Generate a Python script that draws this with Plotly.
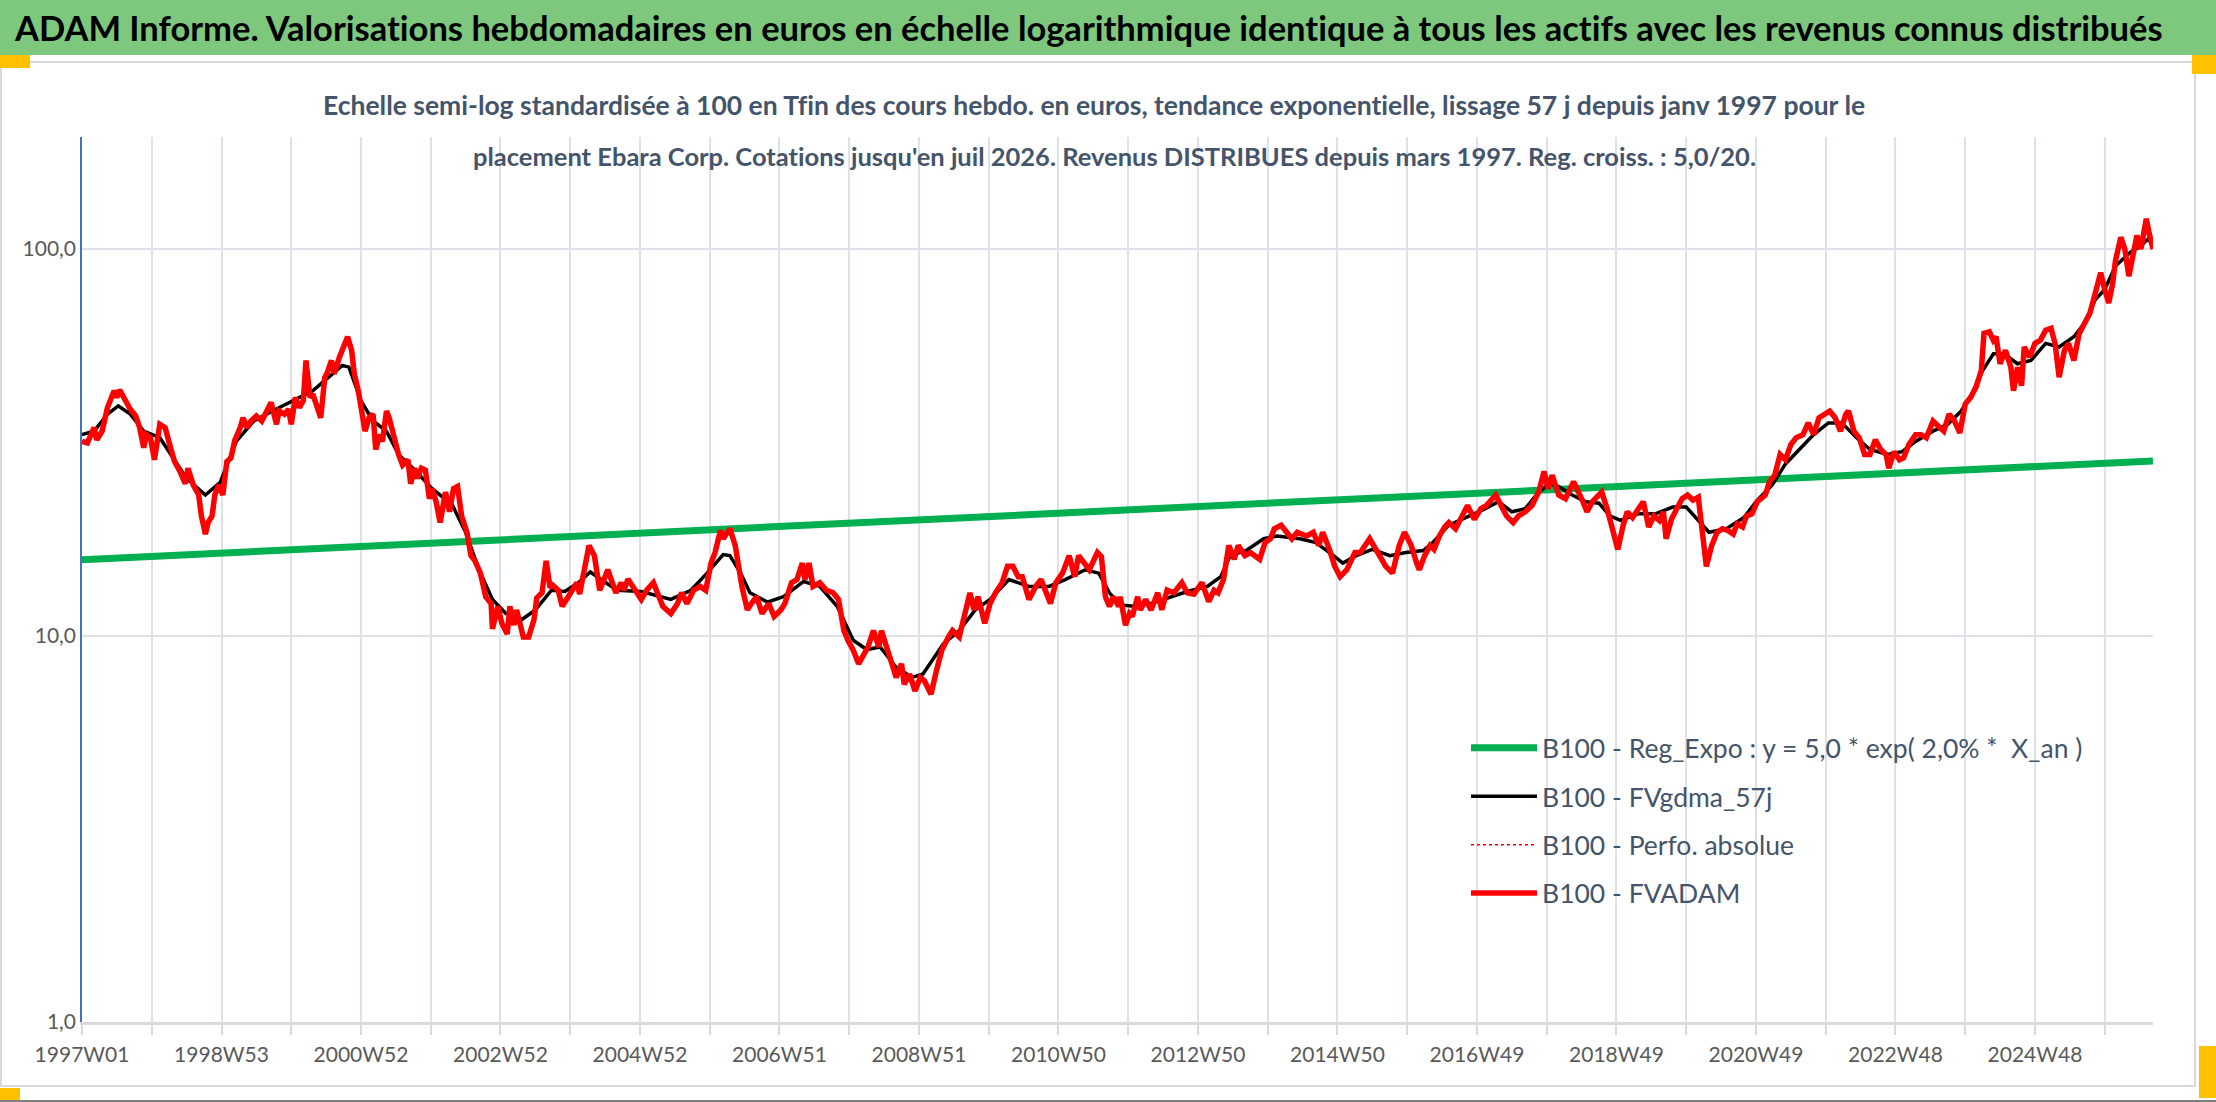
import plotly.graph_objects as go

# ---------------- data ----------------
week_labels = ["1997W01", "1998W53", "2000W52", "2002W52", "2004W52", "2006W51",
               "2008W51", "2010W50", "2012W50", "2014W50", "2016W49", "2018W49",
               "2020W49", "2022W48", "2024W48"]
last_week = 1544  # index of the last weekly quote (juil 2026)

# B100 - FVADAM (weekly valuation, base 100 at the end) : week index / value
fvadam_weeks = [0, 4, 9, 11, 15, 19, 24, 26, 28, 32, 36, 40, 43, 46, 48, 51, 54, 58, 62, 66, 69, 73, 77, 79, 83, 87, 89, 92, 94, 97, 99, 102, 105, 108, 111, 114, 118, 120, 123, 126, 130, 134, 137, 141, 145, 147, 151, 154, 156, 159, 162, 165, 167, 170, 172, 175, 178, 181, 183, 186, 188, 192, 196, 198, 201, 203, 206, 208, 211, 214, 217, 219, 222, 224, 227, 229, 233, 236, 239, 243, 245, 248, 250, 253, 256, 259, 261, 264, 267, 271, 274, 277, 280, 283, 287, 290, 293, 297, 301, 305, 306, 310, 313, 317, 319, 322, 324, 327, 329, 333, 337, 339, 343, 346, 349, 351, 355, 358, 361, 365, 369, 371, 374, 378,
                382, 386, 392, 398, 402, 404, 407, 412, 417, 421, 426, 433, 439, 444, 447, 451, 456, 461, 465, 469, 472, 476, 478, 483, 487, 492, 496, 499, 503, 507, 512, 516, 521, 524, 529, 533, 537, 539, 542, 545, 550, 555, 560, 564, 568, 571, 575, 579, 582, 586, 590, 594, 596, 600, 603, 607, 611, 613, 617, 621, 625, 628, 633, 637, 641, 646, 649, 654, 657, 662, 665, 668, 673, 677, 681, 686, 690, 694, 698, 701, 706, 711, 715, 722, 726, 731, 736, 740, 743, 747, 751, 757, 760, 763, 766,
                769, 773, 774, 778, 781, 783, 787, 789, 793, 797, 802, 805, 809, 814, 820, 824, 829, 835, 840, 844, 847, 851, 855, 859, 862, 867, 871, 878, 882, 886, 889, 894, 902, 906, 913, 918, 922, 925, 930, 934, 938, 943, 949, 953, 960, 965, 972, 977, 982, 986, 991, 995, 997, 1001, 1005, 1008, 1012, 1016, 1019, 1024, 1029, 1033, 1038, 1043, 1047, 1054, 1062, 1067, 1071, 1076, 1081, 1086, 1090, 1093, 1096, 1101, 1106, 1112, 1119, 1122, 1126, 1133, 1137, 1142, 1145,
                1149, 1152, 1156, 1160, 1164, 1168, 1172, 1176, 1179, 1181, 1185, 1189, 1193, 1197, 1201, 1205, 1208, 1211, 1215, 1219, 1223, 1227, 1231, 1234, 1238, 1241, 1245, 1249, 1255, 1258, 1262, 1266, 1270, 1274, 1278, 1283, 1287, 1291, 1295, 1299, 1303, 1307, 1311, 1315, 1317, 1321, 1325, 1329, 1333, 1337, 1341, 1345, 1347, 1351, 1355, 1358, 1362, 1367, 1371, 1375, 1380, 1384, 1388, 1392, 1396, 1400, 1404, 1408, 1412, 1416, 1418, 1422, 1425, 1427, 1430, 1434, 1438, 1440, 1443, 1446, 1448, 1452, 1456, 1460, 1464, 1468, 1471, 1474, 1478, 1481, 1485, 1489, 1493, 1497, 1501, 1505, 1508, 1511, 1514, 1516, 1520, 1523, 1526, 1529, 1532, 1535, 1539, 1541, 1544]
fvadam_values = [31.8, 31.5, 34.5, 32.1, 33.8, 38.9, 43.0, 41.3, 43.2, 40.5, 38.5, 37.0, 34.5, 30.6, 33.1, 32.5, 28.5, 35.2, 34.5, 30.6, 28.2, 26.6, 24.7, 27.1, 24.5, 23.1, 20.4, 18.3, 19.6, 20.4, 23.1, 24.5, 23.1, 28.2, 28.8, 32.1, 34.5, 36.6, 34.5, 35.9, 37.0, 35.9, 37.4, 40.1, 35.2, 38.1, 37.4, 38.5, 35.2, 41.3, 38.9, 40.5, 51.5, 41.3, 42.2, 39.7, 36.6, 46.6, 48.0, 51.5, 47.6, 52.6, 57.0, 59.3, 54.7, 47.6, 43.0, 38.9, 33.8, 36.6, 37.4, 30.3, 33.1, 31.8, 38.1, 36.6, 31.8, 29.4, 27.6, 28.5, 24.7, 27.1, 25.5, 27.1, 26.8, 22.6, 24.0, 22.2, 19.6, 23.5, 20.9, 24.0, 24.3, 20.4, 18.5, 16.1, 15.6, 14.5, 12.6, 12.1, 10.4, 11.9, 10.75, 10.1, 11.9, 10.64, 11.65, 10.75, 9.92, 9.92, 11.0, 12.5, 12.9, 15.6, 13.3, 13.5, 13.1, 11.9, 12.4, 13.0, 13.7, 12.8, 14.8, 17.1,
                 16.1, 13.1, 14.8, 12.9, 13.7, 13.1, 14.0, 13.1, 12.4, 13.1, 13.7, 11.9, 11.4, 12.1, 12.9, 12.1, 13.1, 13.4, 13.1, 15.4, 16.4, 18.7, 17.8, 18.9, 17.1, 13.4, 11.65, 12.1, 12.6, 11.4, 12.1, 11.2, 11.65, 12.1, 13.7, 13.96, 15.4, 13.96, 15.4, 13.4, 13.7, 13.1, 12.9, 12.4, 10.3, 9.72, 9.16, 8.45, 8.79, 9.34, 10.3, 9.34, 10.3, 9.16, 8.62, 7.79, 8.45, 7.48, 7.95, 7.19, 7.79, 7.64, 7.05, 8.11, 9.16, 9.92, 10.3, 9.92, 11.0, 12.9, 11.65, 12.6, 10.75, 12.1, 12.9, 13.7, 15.1, 15.1, 14.2, 14.2, 12.4, 13.4, 13.96, 12.1, 13.7, 14.5, 16.1, 14.2, 16.1, 15.4, 14.8, 16.4, 16.0, 12.6, 11.9,
                 12.6, 11.9, 12.6, 10.64, 11.4, 11.2, 12.6, 11.65, 12.4, 11.65, 12.9, 11.65, 13.1, 12.9, 13.7, 12.9, 12.8, 13.7, 12.25, 13.1, 12.9, 13.96, 17.1, 15.75, 17.1, 16.1, 16.4, 15.75, 17.4, 17.8, 18.9, 19.3, 17.8, 18.5, 18.1, 18.5, 17.1, 18.5, 16.7, 15.1, 14.2, 14.8, 16.4, 16.4, 17.8, 16.7, 15.1, 14.5, 17.1, 18.5, 17.1, 15.4, 14.8, 16.1, 17.1, 16.7, 18.1, 19.1, 19.6, 18.9, 20.4, 21.7, 20.0, 21.3, 21.7, 23.1, 20.4, 19.6, 20.4, 20.9, 21.7, 23.5, 26.6, 24.0, 26.0, 23.1, 22.6, 25.0, 22.2, 20.9, 22.2, 23.5, 21.3, 18.1, 16.7,
                 19.3, 20.9, 20.2, 21.1, 22.2, 19.1, 20.4, 19.85, 20.9, 17.8, 20.0, 21.3, 22.6, 23.1, 22.4, 22.8, 18.5, 15.1, 17.1, 18.5, 18.9, 18.7, 18.3, 19.45, 19.1, 20.4, 20.65, 22.2, 23.1, 25.0, 26.0, 29.4, 28.5, 31.2, 32.5, 33.1, 35.5, 33.1, 36.6, 37.4, 38.1, 36.6, 33.8, 37.4, 38.1, 33.8, 32.5, 29.4, 29.4, 32.1, 30.3, 29.4, 27.1, 29.9, 28.5, 28.8, 31.2, 33.1, 33.1, 32.5, 35.9, 34.8, 33.8, 37.4, 35.9, 33.45, 39.7, 41.3, 43.9, 48.5, 60.5, 61.1, 58.1, 59.3, 50.5, 54.7, 49.5, 43.0, 49.5, 44.3, 55.8, 52.6, 57.0, 58.1, 61.7, 62.4, 57.0, 46.6, 54.7, 57.0, 51.5, 60.5, 64.3, 68.3, 77.0, 86.9, 78.6, 72.5, 81.8, 93.2, 107.3, 100.0, 85.1, 98.0, 108.4, 100.0, 119.8, 110.6, 100.0]

# B100 - FVgdma_57j (57-day smoothed valuation)
gdma_weeks = [0, 9, 19, 27, 36, 46, 58, 68, 78, 92, 103, 115, 128, 142, 157, 172, 187, 194, 199, 208, 217, 227, 236, 249, 261, 276, 286, 296, 306, 316, 328, 338, 350, 360, 370, 379, 387, 399, 417, 439, 454, 466, 478, 483, 491, 498, 511, 523, 538, 550, 563, 575, 585, 595, 607, 619, 627, 634, 642, 654, 666, 677, 691, 706, 721, 733, 748, 758, 766, 774, 784, 797, 809, 824, 839, 849, 856, 868, 881, 891, 908, 920, 933, 940, 950, 962, 975, 987, 1000, 1007, 1019, 1032, 1044, 1056, 1066, 1076, 1086, 1094, 1101, 1111, 1121, 1131, 1139, 1147, 1160, 1173, 1186, 1196, 1202, 1213, 1226, 1239, 1249, 1260, 1270, 1281, 1291, 1302, 1312, 1323, 1333, 1346, 1357, 1367, 1380, 1391, 1401, 1409, 1417, 1425, 1433, 1443, 1453, 1464, 1474, 1485, 1493, 1501, 1508, 1516, 1527, 1535, 1540, 1544]
gdma_values = [33.1, 33.8, 37.4, 39.3, 37.4, 33.8, 32.5, 28.8, 25.5, 23.1, 24.9, 31.8, 35.9, 38.1, 40.5, 43.0, 47.6, 50.0, 49.5, 40.5, 35.9, 33.8, 29.4, 26.6, 24.0, 21.8, 18.5, 14.8, 12.4, 11.4, 11.0, 11.65, 13.1, 13.0, 13.7, 14.6, 13.96, 13.1, 13.0, 12.4, 13.1, 14.5, 16.2, 16.1, 14.5, 12.9, 12.2, 12.6, 13.8, 13.4, 11.9, 9.72, 9.2, 9.34, 8.28, 7.79, 7.95, 8.62, 9.5, 10.3, 11.65, 12.4, 13.96, 13.4, 13.4, 13.96, 14.8, 14.5, 12.9, 12.0, 11.9, 12.1, 12.5, 13.0, 13.4, 14.2, 16.1, 16.6, 17.8, 18.1, 17.8, 17.4, 16.1, 15.4, 16.1, 16.7, 16.1, 16.4, 16.6, 17.4, 19.3, 20.2, 21.1, 22.2, 20.9, 21.3, 23.5, 24.7, 24.3, 23.1, 22.2, 22.0, 20.4, 19.85, 20.65, 20.65, 21.5, 21.5, 20.4, 18.5, 18.9, 20.2, 22.4, 24.5, 27.8, 30.5, 33.1, 35.5, 35.5, 32.5, 30.3, 29.4, 29.9, 31.8, 33.8, 35.2, 38.1, 42.2, 48.5, 53.6, 53.6, 50.5, 51.5, 57.0, 55.8, 59.3, 64.3, 74.0, 78.6, 90.4, 98.0, 102.0, 106.0, 103.0]

# B100 - Reg_Expo : straight line on the log scale, value at first and last week
reg_values = [15.7, 28.3]

# ---------------- layout geometry (pixels of the 2216x1102 page) ----------------
W, H = 2216, 1102
L, R, T, B = 82, 2153, 137, 1022


def px(x):
    return (x - L) / (R - L)


def py(y):
    return (B - y) / (B - T)


def noliga(s):
    # keep the letters apart (no typographic ligatures, as in the original)
    for pair in ("ti", "fi", "fl", "ff", "tt"):
        s = s.replace(pair, pair[0] + "\u200c" + pair[1])
    return s


FONT = "Lato, sans-serif"
SLATE = "#44546A"
GRID = "#DDE2E9"

fig = go.Figure()
fig.add_trace(go.Scatter(x=[0, last_week], y=reg_values, mode="lines",
                         name="B100 - Reg_Expo : y = 5,0 * exp( 2,0% * \u00a0X_an )",
                         line=dict(color="#00B050", width=7), legendgroup="a"))
fig.add_trace(go.Scatter(x=gdma_weeks, y=gdma_values, mode="lines",
                         name="B100 - FVgdma_57j",
                         line=dict(color="#000000", width=3.5), legendgroup="b"))
fig.add_trace(go.Scatter(x=fvadam_weeks, y=fvadam_values, mode="lines",
                         name="B100 - Perfo. absolue",
                         line=dict(color="#FF0000", width=1.5, dash="dot"), legendgroup="c"))
fig.add_trace(go.Scatter(x=fvadam_weeks, y=fvadam_values, mode="lines",
                         name="B100 - FVADAM",
                         line=dict(color="#FF0000", width=5.5), legendgroup="d"))

tickvals = list(range(0, last_week, 52))
ticktext = [week_labels[i // 2] if i % 2 == 0 and i // 2 < len(week_labels) else "" for i in range(len(tickvals))]

shapes = [
    # green banner
    dict(type="rect", xref="paper", yref="paper", x0=px(0), x1=px(W), y0=py(55), y1=py(0),
         fillcolor="#7DC87C", line=dict(width=0), layer="below"),
    # chart frame
    dict(type="rect", xref="paper", yref="paper", x0=px(1), x1=px(2195), y0=py(1086), y1=py(62),
         fillcolor="rgba(0,0,0,0)", line=dict(color="#D9D9D9", width=2), layer="below"),
    # bottom dark line
    dict(type="line", xref="paper", yref="paper", x0=px(0), x1=px(W), y0=py(1101), y1=py(1101),
         line=dict(color="#7F7F7F", width=2)),
    # selection handles
    dict(type="rect", xref="paper", yref="paper", x0=px(0), x1=px(30), y0=py(68), y1=py(55),
         fillcolor="#FFC000", line=dict(width=0)),
    dict(type="rect", xref="paper", yref="paper", x0=px(2192), x1=px(W), y0=py(74), y1=py(55),
         fillcolor="#FFC000", line=dict(width=0)),
    dict(type="rect", xref="paper", yref="paper", x0=px(0), x1=px(20), y0=py(1100), y1=py(1088),
         fillcolor="#FFC000", line=dict(width=0)),
    dict(type="rect", xref="paper", yref="paper", x0=px(2199), x1=px(W), y0=py(1098), y1=py(1046),
         fillcolor="#FFC000", line=dict(width=0)),
]

annotations = [
    dict(text="<b>" + noliga("ADAM Informe. Valorisations hebdomadaires en euros en échelle logarithmique identique à tous les actifs avec les revenus connus distribués") + "</b>",
         xref="paper", yref="paper", x=px(1088), y=py(27), xanchor="center", yanchor="middle",
         showarrow=False, font=dict(family=FONT, size=34.5, color="#000000")),
    dict(text="<b>" + noliga("Echelle semi-log standardisée à 100 en Tfin des cours hebdo. en euros, tendance exponentielle, lissage 57 j depuis janv 1997 pour le") + "</b>",
         xref="paper", yref="paper", x=px(1094), y=py(105), xanchor="center", yanchor="middle",
         showarrow=False, font=dict(family=FONT, size=26.5, color=SLATE)),
    dict(text="<b>" + noliga("placement Ebara Corp. Cotations jusqu'en juil 2026. Revenus DISTRIBUES depuis mars 1997. Reg. croiss. : 5,0/20.") + "</b>",
         xref="paper", yref="paper", x=px(1114), y=py(156), xanchor="center", yanchor="middle",
         showarrow=False, font=dict(family=FONT, size=25.5, color=SLATE)),
]

fig.update_layout(
    width=W, height=H,
    margin=dict(l=L, r=W - R, t=T, b=H - B, pad=0),
    paper_bgcolor="white", plot_bgcolor="white",
    shapes=shapes, annotations=annotations,
    showlegend=True,
    legend=dict(x=px(1466), y=py(724), xanchor="left", yanchor="top",
                font=dict(family=FONT, size=26.5, color=SLATE),
                bgcolor="rgba(0,0,0,0)", tracegroupgap=11, itemwidth=66,
                traceorder="grouped"),
    xaxis=dict(range=[0, last_week], tickmode="array", tickvals=tickvals, ticktext=ticktext,
               showgrid=True, gridcolor=GRID, gridwidth=1.5,
               showline=True, linecolor="#D9D9D9", linewidth=3,
               ticks="outside", ticklen=10, tickcolor="#D9D9D9", tickwidth=1.5,
               ticklabelstandoff=2,
               tickfont=dict(family=FONT, size=21, color="#595959"),
               zeroline=False, tickangle=0),
    yaxis=dict(type="log", range=[0, 2.29], tickmode="array",
               tickvals=[1, 10, 100], ticktext=["1,0", "10,0", "100,0"],
               showgrid=True, gridcolor=GRID, gridwidth=2,
               showline=True, linecolor="#4472C4", linewidth=1.5,
               ticks="", tickfont=dict(family=FONT, size=21, color="#595959"),
               zeroline=False),
)

# the page is shown edge to edge, like the original picture
fig.write_html("out.html", config={"displayModeBar": False},
               post_script="document.body.style.margin='0';document.body.style.overflow='hidden';")
